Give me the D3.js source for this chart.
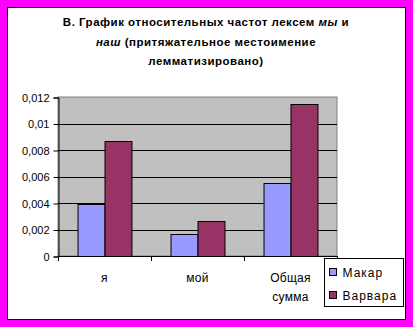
<!DOCTYPE html>
<html>
<head>
<meta charset="utf-8">
<script src="https://cdn.jsdelivr.net/npm/d3@7"></script>
<style>
  body { margin: 0; background: #ff00ff; }
  svg { display: block; font-family: "Liberation Sans", Arial, sans-serif; }
</style>
</head>
<body>
<div id="chart"></div>
<script>
var categories = [["я"], ["мой"], ["Общая", "сумма"]];
var seriesNames = ["Макар", "Варвара"];
var makar = [0.0039, 0.00164, 0.00548];
var varvara = [0.0087, 0.00262, 0.01144];
var yTicks = [0, 0.002, 0.004, 0.006, 0.008, 0.01, 0.012];
var yTickLabels = ["0", "0,002", "0,004", "0,006", "0,008", "0,01", "0,012"];
var colors = ["#9999ff", "#993366"];

var W = 413, H = 327;
var plot = {left: 58, top: 97, right: 337, bottom: 256};

var svg = d3.select("#chart").append("svg")
  .attr("width", W).attr("height", H);

svg.append("rect").attr("x", 0).attr("y", 0).attr("width", W).attr("height", H)
  .attr("fill", "#ff00ff");
svg.append("rect").attr("x", 7.5).attr("y", 7.5).attr("width", 398).attr("height", 312)
  .attr("fill", "#fff").attr("stroke", "#000").attr("stroke-width", 1);

// title
var tStyle = g => g.attr("text-anchor", "middle")
  .style("font-size", "11.5px").style("font-weight", "bold").style("letter-spacing", "0.5px");
var title = svg.append("text").call(tStyle);
title.append("tspan").attr("x", 206).attr("y", 26).text("В. График относительных частот лексем ");
title.append("tspan").style("font-style", "italic").text("мы");
title.append("tspan").text(" и");
var t2 = svg.append("text").call(tStyle);
t2.append("tspan").attr("x", 206).attr("y", 46).style("font-style", "italic").text("наш");
t2.append("tspan").text(" (притяжательное местоимение");
svg.append("text").call(tStyle).attr("x", 206).attr("y", 65).text("лемматизировано)");

var x0 = d3.scaleBand().domain(d3.range(categories.length))
  .range([plot.left, plot.right]).paddingInner(0.42).paddingOuter(0.21);
var x0b = d3.scaleBand().domain(d3.range(categories.length))
  .range([plot.left, plot.right]);
var x1 = d3.scaleBand().domain(d3.range(seriesNames.length))
  .range([0, x0.bandwidth()]);
var y = d3.scaleLinear().domain([0, 0.012]).range([plot.bottom, plot.top]);

svg.append("rect").attr("x", plot.left).attr("y", plot.top)
  .attr("width", plot.right - plot.left).attr("height", plot.bottom - plot.top)
  .attr("fill", "#c0c0c0").attr("stroke", "#808080");

// gridlines
svg.append("g").selectAll("line").data(yTicks.slice(1, -1)).enter().append("line")
  .attr("x1", plot.left).attr("x2", plot.right)
  .attr("y1", d => Math.round(y(d)) + 0.5).attr("y2", d => Math.round(y(d)) + 0.5)
  .attr("stroke", "#000");

// bars
var rows = categories.map((c, i) => [makar[i], varvara[i]]);
svg.append("g").selectAll("g").data(rows).enter().append("g")
  .attr("transform", (d, i) => "translate(" + x0(i) + ",0)")
  .selectAll("rect").data(d => d).enter().append("rect")
  .attr("x", (d, j) => x1(j) + 0.5)
  .attr("y", d => Math.round(y(d)) + 0.5)
  .attr("width", x1.bandwidth())
  .attr("height", d => plot.bottom - Math.round(y(d)))
  .attr("fill", (d, j) => colors[j])
  .attr("stroke", "#000");

// y axis
var yAxis = d3.axisLeft(y).tickValues(yTicks).tickSize(5).tickPadding(4)
  .tickFormat((d, i) => yTickLabels[i]);
svg.append("g").attr("transform", "translate(" + (plot.left + 0.5) + ",0.5)")
  .call(yAxis)
  .call(g => g.selectAll("text").style("font-size", "11px").style("font-family", "Liberation Sans, Arial").attr("fill", "#000"))
  .call(g => g.selectAll("line,path").attr("stroke", "#000"));

// x axis
var xTickPos = d3.range(categories.length + 1).map(i => i < categories.length ? x0b(i) : plot.right);
var xg = svg.append("g");
xg.append("line").attr("x1", plot.left).attr("x2", plot.right)
  .attr("y1", plot.bottom + 0.5).attr("y2", plot.bottom + 0.5).attr("stroke", "#000");
xg.selectAll(".tk").data(xTickPos).enter().append("line")
  .attr("x1", d => Math.round(d) + 0.5).attr("x2", d => Math.round(d) + 0.5)
  .attr("y1", plot.bottom).attr("y2", plot.bottom + 5).attr("stroke", "#000");
xg.selectAll(".lbl").data(categories).enter().append("text")
  .attr("text-anchor", "middle")
  .style("font-size", "12px").style("letter-spacing", "0.3px")
  .attr("transform", (d, i) => "translate(" + (x0b(i) + x0b.bandwidth() / 2) + ",282)")
  .selectAll("tspan").data(d => d).enter().append("tspan")
  .attr("x", 0).attr("dy", (d, k) => k === 0 ? 0 : 19).text(d => d);

// legend
var lg = svg.append("g").attr("transform", "translate(324.5,258.5)");
lg.append("rect").attr("width", 79).attr("height", 48).attr("fill", "#fff").attr("stroke", "#000");
var items = lg.selectAll(".it").data(seriesNames).enter().append("g")
  .attr("transform", (d, i) => "translate(5," + (10 + i * 23) + ")");
items.append("rect").attr("width", 7).attr("height", 7)
  .attr("fill", (d, i) => colors[i]).attr("stroke", "#000");
items.append("text").attr("x", 13).attr("y", 8).style("font-size", "12px")
  .style("letter-spacing", "1px").text(d => d);
</script>
</body>
</html>
